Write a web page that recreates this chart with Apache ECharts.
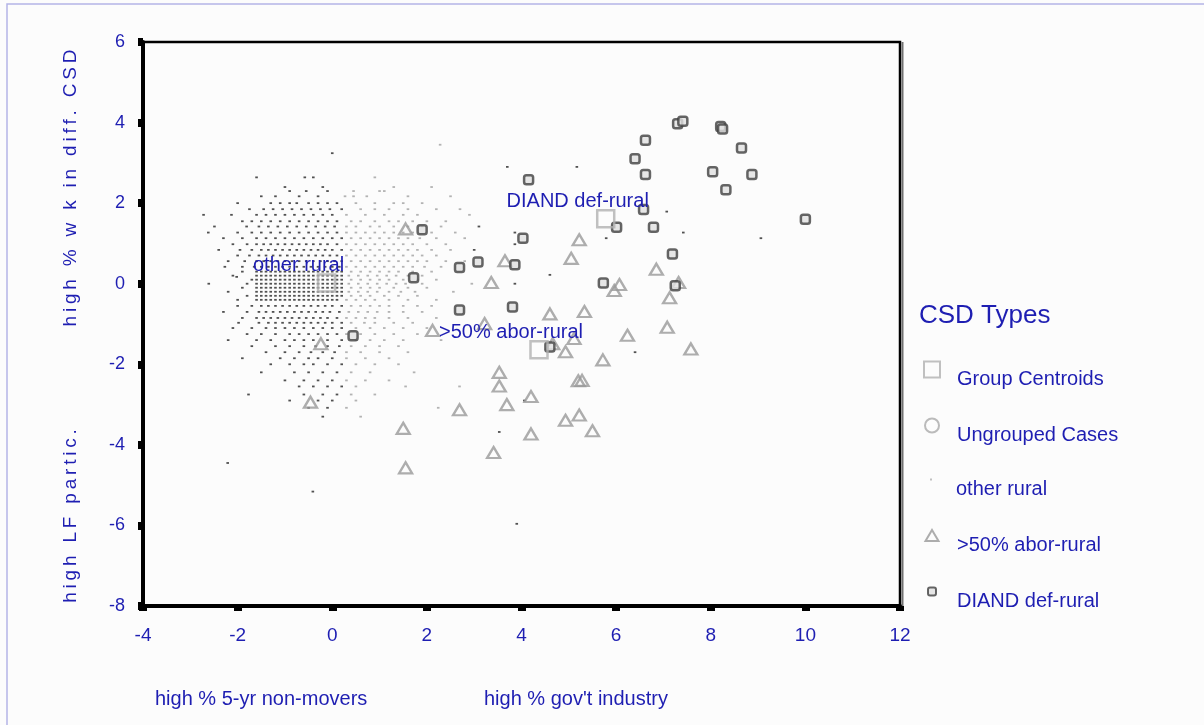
<!DOCTYPE html>
<html>
<head>
<meta charset="utf-8">
<script src="https://cdn.jsdelivr.net/npm/echarts@6/dist/echarts.min.js"></script>
<style>
  html, body { margin: 0; padding: 0; background: #fcfcfc; }
  #chart { width: 1204px; height: 725px; }
</style>
</head>
<body>
<div id="chart"></div>
<script>
// Discriminant function scores for census subdivisions, by CSD type.
const groupNames = ['other rural', '>50% abor-rural', 'DIAND def-rural'];
const centroidX = [-0.12, 4.37, 5.78];
const centroidY = [0.02, -1.64, 1.61];

const xAxisRange = [-4, 12];
const yAxisRange = [-8, 6];
const tickStep = 2;

const aborPoints = [
  [1.55, 1.36], [5.22, 1.09], [5.05, 0.63], [3.65, 0.57], [6.85, 0.36], [3.36, 0.03],
  [6.07, -0.02], [5.96, -0.17], [7.32, 0.03], [7.13, -0.35], [4.60, -0.75], [5.33, -0.69],
  [7.08, -1.08], [3.22, -0.99], [2.12, -1.16], [4.66, -1.49], [5.11, -1.36], [6.24, -1.28],
  [4.93, -1.69], [7.58, -1.62], [5.72, -1.89], [3.53, -2.20], [3.53, -2.54], [5.20, -2.41],
  [5.28, -2.40], [4.20, -2.80], [3.69, -3.00], [2.69, -3.13], [5.22, -3.26], [4.93, -3.39],
  [1.50, -3.59], [4.20, -3.73], [5.50, -3.65], [3.41, -4.19], [1.55, -4.57], [-0.24, -1.49],
  [-0.46, -2.94]
];

const diandPoints = [
  [4.15, 2.58], [6.62, 3.56], [6.40, 3.10], [6.62, 2.71], [7.30, 3.97], [7.41, 4.03],
  [8.21, 3.90], [8.25, 3.84], [8.65, 3.37], [8.04, 2.78], [8.87, 2.71], [8.32, 2.33],
  [10.00, 1.60], [6.58, 1.84], [6.01, 1.40], [6.79, 1.40], [4.03, 1.13], [3.86, 0.47],
  [7.19, 0.74], [5.73, 0.02], [7.25, -0.05], [1.90, 1.34], [3.08, 0.54], [2.69, 0.40],
  [1.72, 0.15], [2.69, -0.65], [3.81, -0.58], [4.60, -1.57], [0.44, -1.29]
];

// "other rural" cases, one row per score level on the vertical axis: [y, [x, x, ...]]
const otherRuralRows = [
  [3.45, [2.28]],
  [3.24, [0.0]],
  [2.90, [3.7, 5.17]],
  [2.64, [-1.6, -0.58, -0.4, 0.9]],
  [2.40, [-1.0, -0.2, 1.3, 2.1]],
  [2.30, [-0.9, -0.55, -0.1, 0.45, 1.0, 1.1]],
  [2.17, [-1.5, -1.2, -0.7, -0.3, 0.27, 0.45, 0.73, 1.6, 2.5]],
  [2.00, [-2.0, -1.3, -1.1, -0.9, -0.75, -0.5, -0.3, -0.1, 0.1, 0.5, 0.9, 1.3, 1.5, 1.9]],
  [1.85, [-1.75, -1.45, -1.25, -1.05, -0.85, -0.65, -0.45, -0.25, -0.05, 0.2, 0.6, 0.9, 1.2, 1.6, 2.2, 2.7]],
  [1.79, [7.07]],
  [1.71, [-2.72, -2.13, -1.6, -1.4, -1.2, -1.0, -0.8, -0.6, -0.4, -0.2, 0.0, 0.3, 0.7, 1.1, 1.5, 1.8, 2.9]],
  [1.55, [-1.9, -1.7, -1.5, -1.3, -1.1, -0.9, -0.7, -0.5, -0.3, -0.1, 0.1, 0.4, 0.6, 0.9, 1.2, 1.4, 1.7, 2.0, 2.4]],
  [1.42, [-2.49, -1.81, -1.55, -1.35, -1.15, -0.95, -0.75, -0.55, -0.35, -0.15, 0.05, 0.3, 0.5, 0.8, 1.0, 1.3, 1.6, 1.9, 2.3, 3.1]],
  [1.27, [-2.62, -2.0, -1.7, -1.5, -1.3, -1.1, -0.9, -0.7, -0.5, -0.3, -0.1, 0.1, 0.3, 0.5, 0.7, 0.9, 1.1, 1.3, 1.5, 1.7, 2.1, 2.6, 3.86, 7.42]],
  [1.13, [-2.3, -1.9, -1.6, -1.4, -1.2, -1.0, -0.8, -0.6, -0.4, -0.2, 0.0, 0.2, 0.4, 0.6, 0.8, 1.0, 1.2, 1.4, 1.6, 1.85, 2.2, 2.8, 5.79, 9.06]],
  [0.98, [-2.1, -1.8, -1.6, -1.45, -1.3, -1.15, -1.0, -0.85, -0.7, -0.55, -0.4, -0.25, -0.1, 0.1, 0.3, 0.5, 0.7, 0.9, 1.1, 1.3, 1.5, 1.7, 2.0, 2.4, 3.86]],
  [0.84, [-2.4, -1.95, -1.7, -1.5, -1.35, -1.2, -1.05, -0.9, -0.75, -0.6, -0.45, -0.3, -0.15, 0.0, 0.2, 0.4, 0.6, 0.8, 1.0, 1.2, 1.4, 1.6, 1.8, 2.1, 2.5, 3.0]],
  [0.70, [-2.0, -1.75, -1.55, -1.4, -1.25, -1.1, -0.95, -0.8, -0.65, -0.5, -0.35, -0.2, -0.05, 0.1, 0.3, 0.5, 0.7, 0.9, 1.1, 1.3, 1.5, 1.7, 1.9, 2.2]],
  [0.56, [-2.2, -1.85, -1.6, -1.45, -1.3, -1.15, -1.0, -0.85, -0.7, -0.55, -0.4, -0.25, -0.1, 0.05, 0.2, 0.4, 0.6, 0.8, 1.0, 1.2, 1.4, 1.6, 1.8, 2.0, 2.4, 2.8]],
  [0.42, [-2.27, -1.9, -1.65, -1.5, -1.35, -1.2, -1.05, -0.9, -0.75, -0.6, -0.45, -0.3, -0.15, 0.0, 0.15, 0.3, 0.5, 0.7, 0.9, 1.1, 1.3, 1.5, 1.7, 1.95, 2.3]],
  [0.30, [-1.9, -1.6, -1.5, -1.4, -1.3, -1.2, -1.1, -1.0, -0.9, -0.8, -0.7, -0.6, -0.5, -0.4, -0.3, -0.2, -0.1, 0.0, 0.1, 0.2, 0.4, 0.6, 0.8, 1.0, 1.2, 1.4, 1.7, 2.1]],
  [0.22, [4.6]],
  [0.20, [-2.1, -1.6, -1.5, -1.4, -1.3, -1.2, -1.1, -1.0, -0.9, -0.8, -0.7, -0.6, -0.5, -0.4, -0.3, -0.2, -0.1, 0.0, 0.1, 0.2, 0.35, 0.55, 0.75, 0.95, 1.15, 1.35, 1.6, 1.9]],
  [0.17, [-2.02]],
  [0.10, [-1.7, -1.6, -1.5, -1.4, -1.3, -1.2, -1.1, -1.0, -0.9, -0.8, -0.7, -0.6, -0.5, -0.4, -0.3, -0.2, -0.1, 0.0, 0.1, 0.2, 0.4, 0.6, 0.8, 1.0, 1.2, 1.5, 1.8, 2.2]],
  [0.00, [-2.61, -1.8, -1.6, -1.5, -1.4, -1.3, -1.2, -1.1, -1.0, -0.9, -0.8, -0.7, -0.6, -0.5, -0.4, -0.3, -0.2, -0.1, 0.0, 0.1, 0.2, 0.35, 0.55, 0.75, 0.95, 1.15, 1.35, 1.55, 1.9, 2.95, 3.86]],
  [-0.10, [-1.9, -1.6, -1.5, -1.4, -1.3, -1.2, -1.1, -1.0, -0.9, -0.8, -0.7, -0.6, -0.5, -0.4, -0.3, -0.2, -0.1, 0.0, 0.1, 0.2, 0.4, 0.6, 0.8, 1.0, 1.3, 1.6, 2.0]],
  [-0.20, [-2.2, -1.6, -1.5, -1.4, -1.3, -1.2, -1.1, -1.0, -0.9, -0.8, -0.7, -0.6, -0.5, -0.4, -0.3, -0.2, -0.1, 0.0, 0.1, 0.2, 0.35, 0.55, 0.75, 0.95, 1.2, 1.45, 1.75, 2.56]],
  [-0.30, [-1.8, -1.6, -1.5, -1.4, -1.3, -1.2, -1.1, -1.0, -0.9, -0.8, -0.7, -0.6, -0.5, -0.4, -0.3, -0.2, -0.1, 0.0, 0.1, 0.2, 0.4, 0.6, 0.8, 1.1, 1.4, 1.8]],
  [-0.40, [-2.0, -1.6, -1.5, -1.4, -1.3, -1.2, -1.1, -1.0, -0.9, -0.8, -0.7, -0.6, -0.5, -0.4, -0.3, -0.2, -0.1, 0.0, 0.1, 0.3, 0.5, 0.7, 0.9, 1.2, 1.6, 2.2]],
  [-0.55, [-2.0, -1.7, -1.5, -1.35, -1.2, -1.05, -0.9, -0.75, -0.6, -0.45, -0.3, -0.15, 0.0, 0.2, 0.4, 0.6, 0.8, 1.0, 1.2, 1.5, 1.8, 2.1]],
  [-0.70, [-2.3, -1.8, -1.55, -1.4, -1.25, -1.1, -0.95, -0.8, -0.65, -0.5, -0.35, -0.2, -0.05, 0.15, 0.35, 0.55, 0.75, 0.95, 1.2, 1.5, 1.9]],
  [-0.85, [-1.9, -1.6, -1.45, -1.3, -1.15, -1.0, -0.85, -0.7, -0.55, -0.4, -0.25, -0.1, 0.1, 0.3, 0.5, 0.7, 0.9, 1.2, 1.6, 2.2]],
  [-0.97, [-1.98, -1.55, -1.35, -1.2, -1.05, -0.9, -0.75, -0.6, -0.45, -0.3, -0.15, 0.0, 0.2, 0.4, 0.68, 0.9, 1.3, 1.7]],
  [-1.10, [-2.1, -1.7, -1.4, -1.2, -1.0, -0.8, -0.6, -0.4, -0.2, 0.0, 0.2, 0.5, 0.8, 1.1, 1.5, 2.0]],
  [-1.25, [-1.8, -1.5, -1.2, -0.9, -0.7, -0.5, -0.3, -0.1, 0.1, 0.3, 0.6, 0.9, 1.3, 1.8]],
  [-1.40, [-2.2, -1.6, -1.3, -1.0, -0.8, -0.6, -0.4, -0.1, 0.2, 0.5, 0.8, 1.1, 1.5, 2.3]],
  [-1.55, [-1.7, -1.2, -0.9, -0.6, -0.35, -0.1, 0.15, 0.4, 0.7, 1.0, 1.4]],
  [-1.70, [-1.4, -1.0, -0.7, -0.45, -0.2, 0.05, 0.3, 0.6, 1.0, 1.6, 6.4]],
  [-1.85, [-1.9, -1.1, -0.8, -0.5, -0.3, 0.0, 0.3, 0.7, 1.2]],
  [-2.00, [-1.3, -0.9, -0.6, -0.4, -0.1, 0.2, 0.5, 0.9, 1.4]],
  [-2.20, [-1.5, -0.8, -0.5, -0.2, 0.1, 0.4, 0.8, 1.73]],
  [-2.40, [-1.0, -0.6, -0.3, 0.0, 0.3, 0.7, 1.2]],
  [-2.55, [-0.7, -0.4, -0.1, 0.2, 0.5, 1.55, 2.69]],
  [-2.75, [-1.77, -0.6, -0.2, 0.1, 0.4, 0.9]],
  [-2.90, [-0.9, -0.3, 0.0, 0.5, 4.06]],
  [-3.08, [-0.5, -0.1, 0.3, 2.24]],
  [-3.30, [-0.2, 0.6]],
  [-3.68, [3.53]],
  [-4.45, [-2.21]],
  [-5.16, [-0.41]],
  [-5.96, [3.9]]
];

const legendNames = ['Group Centroids', 'Ungrouped Cases', 'other rural', '>50% abor-rural', 'DIAND def-rural'];

const otherRuralPoints = [];
otherRuralRows.forEach(([y, xs]) => xs.forEach(x => otherRuralPoints.push([x, y])));

const centroidData = groupNames.map((name, i) => ({ name, value: [centroidX[i], centroidY[i]] }));

const blue = '#1e1eb2';
const font = '"Liberation Sans", Arial, sans-serif';
const spaced = s => s.split('').join('\u2009');

// Legend: one component per entry so each icon keeps its own size;
// the entry text sits a little below its icon.
const legendIcons = [
  { w: 16, h: 16, cy: 369 },
  { w: 14, h: 14, cy: 425 },
  { w: 2, h: 2, cy: 479 },
  { w: 13, h: 11, cy: 535 },
  { w: 8, h: 8, cy: 591 }
];
const iconCenterX = 931, textLeft = 956, legendLine = 19;
const legends = legendNames.map((name, i) => {
  const ic = legendIcons[i];
  return {
    selectedMode: false,
    orient: 'horizontal',
    padding: 0,
    left: iconCenterX - ic.w / 2,
    top: ic.cy - legendLine,
    itemWidth: ic.w,
    itemHeight: ic.h,
    data: [name === 'other rural' ? { name, itemStyle: { color: '#b0b0b0' } } : name],
    formatter: n => '\n' + n,
    textStyle: {
      color: blue, fontSize: 20, fontFamily: font, lineHeight: legendLine,
      padding: [0, 0, 0, textLeft - 5 - (iconCenterX + ic.w / 2)]
    }
  };
});

const chart = echarts.init(document.getElementById('chart'), null, { renderer: 'canvas' });

chart.setOption({
  backgroundColor: '#fcfcfc',
  animation: false,
  grid: {
    left: 143, top: 42, right: 304, bottom: 119,
    show: true, borderColor: '#000', borderWidth: 2.5, backgroundColor: 'transparent'
  },
  xAxis: {
    type: 'value', min: xAxisRange[0], max: xAxisRange[1], interval: tickStep,
    splitLine: { show: false },
    axisLine: { show: true, onZero: false, lineStyle: { color: '#000', width: 4 } },
    axisTick: { show: true, length: 5, lineStyle: { color: '#000', width: 8 } },
    axisLabel: { color: blue, fontSize: 19, fontFamily: font, margin: 20 }
  },
  yAxis: {
    type: 'value', min: yAxisRange[0], max: yAxisRange[1], interval: tickStep,
    splitLine: { show: false },
    axisLine: { show: true, onZero: false, lineStyle: { color: '#000', width: 4 } },
    axisTick: { show: true, length: 5, lineStyle: { color: '#000', width: 8 } },
    axisLabel: { color: blue, fontSize: 18, fontFamily: font, margin: 18 }
  },
  legend: legends,
  graphic: [
    {
      type: 'rect', silent: true, z: -1,
      shape: { x: 7, y: 4, width: 1400, height: 900 },
      style: { fill: 'none', stroke: '#b4b4e6', lineWidth: 1.5 }
    },
    {
      type: 'line', silent: true,
      shape: { x1: 902.5, y1: 42, x2: 902.5, y2: 606 },
      style: { stroke: '#707070', lineWidth: 2 }
    },
    {
      type: 'text', left: 919, top: 303,
      style: { text: 'CSD Types', fill: blue, fontSize: 26, fontFamily: font }
    },
    {
      type: 'text', x: 71, y: 188, rotation: Math.PI / 2,
      style: { text: spaced('high % w k in diff. CSD'), fill: blue, fontSize: 19, fontFamily: font, align: 'center', verticalAlign: 'middle' }
    },
    {
      type: 'text', x: 71, y: 516, rotation: Math.PI / 2,
      style: { text: spaced('high LF partic.'), fill: blue, fontSize: 19, fontFamily: font, align: 'center', verticalAlign: 'middle' }
    },
    {
      type: 'text', x: 155, y: 699,
      style: { text: 'high % 5-yr non-movers', fill: blue, fontSize: 20, fontFamily: font, verticalAlign: 'middle' }
    },
    {
      type: 'text', x: 484, y: 699,
      style: { text: "high % gov't industry", fill: blue, fontSize: 20, fontFamily: font, verticalAlign: 'middle' }
    }
  ],
  series: [
    {
      name: 'other rural', type: 'scatter', z: 1,
      symbol: 'rect', symbolSize: [2.6, 1.8], data: otherRuralPoints,
      itemStyle: {
        color: p => (p.value[0] > 0.25 && p.value[0] < 3 ? '#a0a0a0' : '#262626')
      }
    },
    {
      name: 'Ungrouped Cases', type: 'scatter', z: 2, data: [],
      symbol: 'circle',
      itemStyle: { color: '#fcfcfc', borderColor: '#aaaaaa', borderWidth: 2 }
    },
    {
      name: '>50% abor-rural', type: 'scatter', z: 3,
      symbol: 'triangle', symbolSize: [13, 11], data: aborPoints,
      itemStyle: { color: 'rgba(255,255,255,0)', borderColor: '#999999', borderWidth: 2.3 }
    },
    {
      name: 'DIAND def-rural', type: 'scatter', z: 4,
      symbol: 'roundRect', symbolSize: 9, data: diandPoints,
      itemStyle: { color: '#e0e0e0', borderColor: '#404040', borderWidth: 2.5 }
    },
    {
      name: 'Group Centroids', type: 'scatter', z: 5,
      symbol: 'rect', symbolSize: 17, data: centroidData,
      itemStyle: { color: 'rgba(255,255,255,0)', borderColor: '#b0b0b0', borderWidth: 2.5 },
      label: {
        show: true, formatter: p => p.name, position: 'top',
        color: blue, opacity: 1, textBorderWidth: 0, textShadowBlur: 0,
        fontSize: 20, fontFamily: font
      },
      labelLayout: { hideOverlap: false, dx: -28, dy: 7 }
    }
  ]
});
</script>
</body>
</html>
